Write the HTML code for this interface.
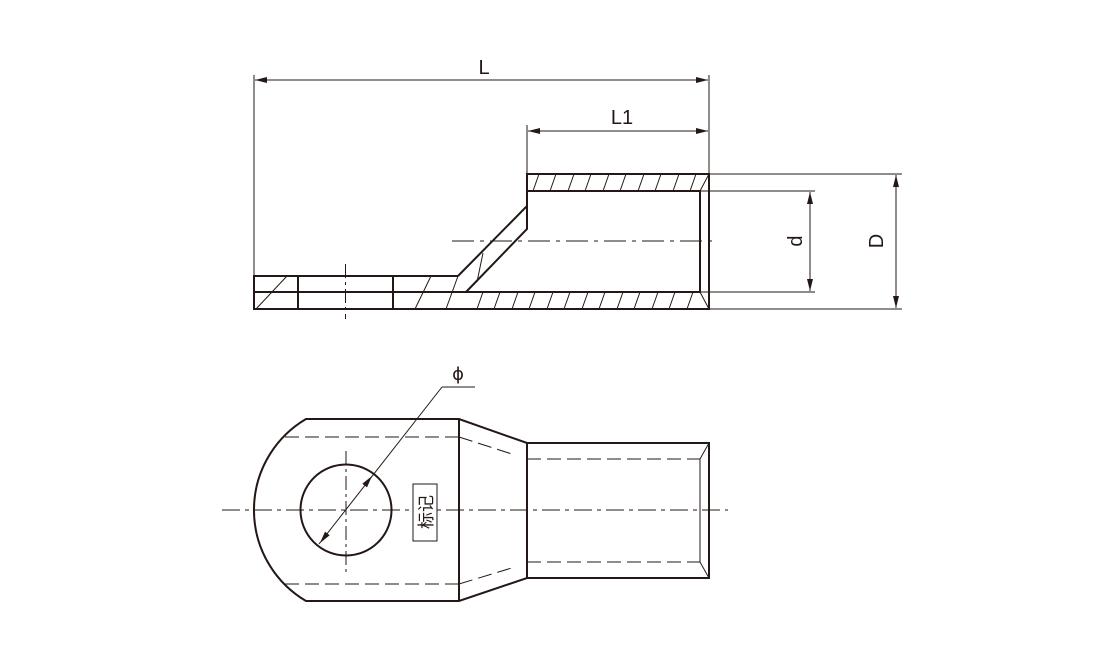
<!DOCTYPE html>
<html><head><meta charset="utf-8"><style>html,body{margin:0;padding:0;background:#fff}svg{display:block}</style></head>
<body>
<svg width="1098" height="660" viewBox="0 0 1098 660" xmlns="http://www.w3.org/2000/svg">
<defs>
<marker id="a" viewBox="0 0 12 6" refX="12" refY="3" markerWidth="12" markerHeight="6" orient="auto-start-reverse" markerUnits="userSpaceOnUse"><path d="M0,0 L12,3 L0,6 Z" fill="#231815"/></marker>
</defs>
<g stroke="#231815" fill="none">
<g stroke-width="1">
<line x1="254" y1="75" x2="254" y2="309"/>
<line x1="709" y1="75" x2="709" y2="174"/>
<line x1="527" y1="125" x2="527" y2="174"/>
<line x1="255" y1="80" x2="708" y2="80" marker-start="url(#a)" marker-end="url(#a)"/>
<line x1="528" y1="131" x2="708" y2="131" marker-start="url(#a)" marker-end="url(#a)"/>
<line x1="709" y1="174" x2="902" y2="174"/>
<line x1="709" y1="309" x2="902" y2="309"/>
<line x1="700" y1="191" x2="815" y2="191"/>
<line x1="700" y1="292" x2="815" y2="292"/>
<line x1="810" y1="192" x2="810" y2="291" marker-start="url(#a)" marker-end="url(#a)"/>
<line x1="896" y1="175" x2="896" y2="308" marker-start="url(#a)" marker-end="url(#a)"/>
</g>
<g stroke-width="2">
<polyline points="458,276 254,276 254,309 709,309 709,174 527,174 527,206 458,276"/>
<line x1="254" y1="292" x2="466" y2="292"/>
<polyline points="466,292 527,229 527,191 700,191 700,292 466,292"/>
<line x1="298" y1="276" x2="298" y2="309"/>
<line x1="393" y1="276" x2="393" y2="309"/>
</g>
<g stroke-width="1">
<line x1="527" y1="206" x2="527" y2="229"/>
<line x1="709" y1="174" x2="700" y2="191"/>
<line x1="700" y1="292" x2="709" y2="309"/>
<line x1="483" y1="253" x2="477" y2="282"/>
<line x1="256" y1="309" x2="287" y2="276"/>
<line x1="415" y1="309" x2="431" y2="276"/>
<line x1="446" y1="309" x2="458" y2="276"/>
<line x1="345.5" y1="264" x2="345.5" y2="319" stroke-dasharray="14,4,3,4"/>
<line x1="452" y1="241" x2="718" y2="241" stroke-dasharray="22,6,4,6"/>
<path d="M533,191 l6,-17 M550,191 l6,-17 M568,191 l6,-17 M585,191 l6,-17 M603,191 l6,-17 M620,191 l6,-17 M638,191 l6,-17 M655,191 l6,-17 M673,191 l6,-17 M690,191 l6,-17"/>
<path d="M477,309 l6,-17 M494,309 l6,-17 M512,309 l6,-17 M529,309 l6,-17 M547,309 l6,-17 M564,309 l6,-17 M582,309 l6,-17 M599,309 l6,-17 M617,309 l6,-17 M634,309 l6,-17 M652,309 l6,-17 M669,309 l6,-17 M687,309 l6,-17"/>
</g>
<g stroke-width="2">
<path d="M306,419 L459,419 L527,443 L709,443 L709,578 L527,578 L459,601 L306,601 A105.6,105.6 0 0 1 306,419 Z"/>
<line x1="459" y1="419" x2="459" y2="601"/>
<line x1="527" y1="443" x2="527" y2="578"/>
<circle cx="346" cy="510" r="45.5"/>
</g>
<g stroke-width="1">
<line x1="700" y1="459" x2="700" y2="562"/>
<line x1="700" y1="459" x2="709" y2="443"/>
<line x1="700" y1="562" x2="709" y2="578"/>
<g stroke-dasharray="14,6">
<line x1="285" y1="437" x2="459" y2="437"/>
<line x1="285" y1="584" x2="459" y2="584"/>
<line x1="459" y1="437" x2="515" y2="455"/>
<line x1="459" y1="584" x2="515" y2="567"/>
<line x1="527" y1="459" x2="700" y2="459"/>
<line x1="527" y1="562" x2="700" y2="562"/>
</g>
<line x1="222" y1="510" x2="728" y2="510" stroke-dasharray="18,5,4,5"/>
<line x1="346" y1="451" x2="346" y2="573" stroke-dasharray="14,4,3,4"/>
<line x1="319" y1="544" x2="442" y2="387"/>
<line x1="442" y1="387" x2="475" y2="387"/>
<rect x="413" y="484" width="24" height="57" fill="#fff" stroke-width="1"/>
</g>
<g fill="#231815" stroke="none">
<path d="M320,543 L325.0,531.6 L329.7,535.3 Z"/>
<path d="M372,476 L367.0,487.4 L362.3,483.7 Z"/>
</g>
</g>
<g fill="#231815" font-family="Liberation Sans, sans-serif" font-size="20">
<text x="484" y="74" text-anchor="middle">L</text>
<text x="622" y="124" text-anchor="middle">L1</text>
<text transform="translate(802,241) rotate(-90)" text-anchor="middle">d</text>
<text transform="translate(883,241) rotate(-90)" text-anchor="middle">D</text>
<text x="458" y="380" text-anchor="middle" font-family="DejaVu Sans, sans-serif" font-size="18">ϕ</text>
<text transform="translate(432,512) rotate(-90)" text-anchor="middle" font-size="17" font-family="Liberation Sans, 'Noto Sans CJK SC', sans-serif">标记</text>
</g>
</svg>
</body></html>
